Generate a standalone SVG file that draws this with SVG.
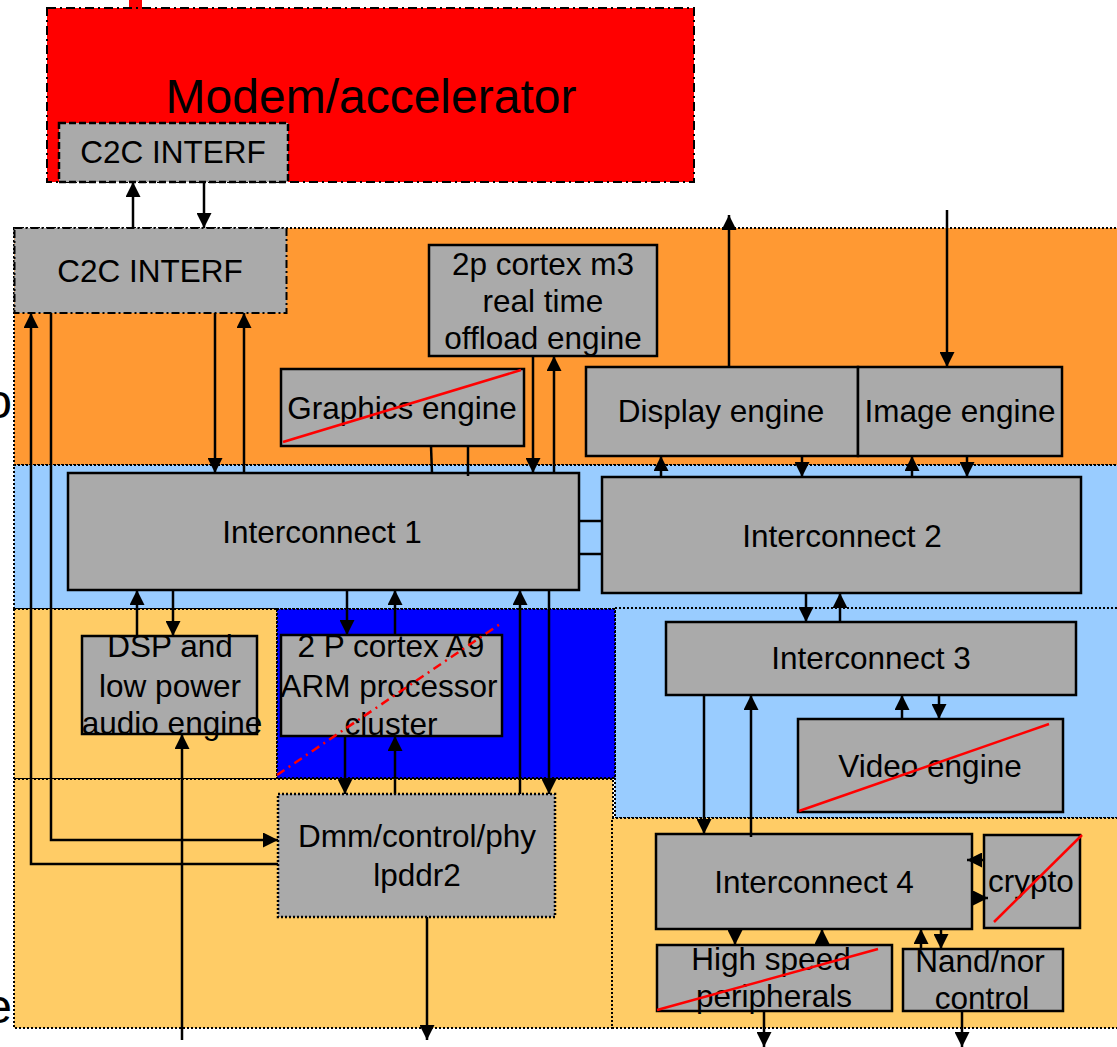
<svg xmlns="http://www.w3.org/2000/svg" width="1117" height="1047" viewBox="0 0 1117 1047">
<style>
  text { font-family: "Liberation Sans", Arial, sans-serif; fill: #000; text-anchor: middle; }
  .t { font-size: 31.5px; }
  .big { font-size: 48px; }
  .box { fill: #AAAAAA; stroke: #000; stroke-width: 2.5; }
  .dashbox { fill: #AAAAAA; stroke: #000; stroke-width: 2.5; stroke-dasharray: 7 3; }
  .dashdot { fill: #AAAAAA; stroke: #000; stroke-width: 2; stroke-dasharray: 8 3 2 3; }
  .dotbox { fill: #AAAAAA; stroke: #000; stroke-width: 2.5; stroke-dasharray: 2 2; }
  .reg { stroke: #000; stroke-width: 2; stroke-dasharray: 2 2; }
  .cross { stroke: #FF0000; stroke-width: 2.5; fill: none; }
  .c { stroke: #000; stroke-width: 2.5; fill: none; }
  .a { stroke: #000; stroke-width: 2.5; fill: none; marker-end: url(#ah); }
</style>
<defs>
  <marker id="ah" viewBox="0 0 15 15" refX="15" refY="7.5" markerWidth="15" markerHeight="15" markerUnits="userSpaceOnUse" orient="auto">
    <path d="M0,0 L15,7.5 L0,15 z" fill="#000"/>
  </marker>
</defs>
<rect width="1117" height="1047" fill="#FFFFFF"/>

<!-- regions -->
<g id="regions">
  <rect x="14" y="228" width="1110" height="237" fill="#FF9933" class="reg"/>
  <rect x="14" y="465" width="1110" height="144" fill="#99CCFF" class="reg"/>
  <rect x="615" y="608" width="510" height="210" fill="#99CCFF" class="reg"/>
  <rect x="14" y="609" width="263" height="170" fill="#FFCC66" class="reg"/>
  <rect x="277" y="609" width="338" height="169" fill="#0000FF" class="reg"/>
  <rect x="14" y="779" width="599" height="249" fill="#FFCC66" class="reg"/>
  <rect x="612" y="818" width="512" height="210" fill="#FFCC66" class="reg"/>
  <text x="12" y="418" style="font-size:48px;text-anchor:end">o</text>
  <text x="12" y="1023" style="font-size:48px;text-anchor:end">e</text>
</g>

<!-- modem -->
<g id="modem">
  <rect x="129" y="0" width="13" height="10" fill="#FF0000"/>
  <rect x="47" y="8" width="647" height="174" fill="#FF0000" stroke="#000" stroke-width="2" stroke-dasharray="9 4 2 4"/>
  <text class="big" x="371" y="113">Modem/accelerator</text>
</g>
<g id="c2c-modem">
  <rect x="59" y="123" width="229" height="59" class="dashbox"/>
  <text class="t" x="173" y="163">C2C INTERF</text>
</g>
<g id="c2c-soc">
  <rect x="14.5" y="228" width="272" height="85" class="dashdot"/>
  <text class="t" x="150" y="282">C2C INTERF</text>
</g>
<g id="m3">
  <rect x="429" y="245" width="228" height="111" class="box"/>
  <text class="t" x="543"><tspan x="543" y="275">2p cortex m3</tspan><tspan x="543" y="312">real time</tspan><tspan x="543" y="349">offload engine</tspan></text>
</g>
<g id="graphics">
  <rect x="281" y="369" width="243" height="77" class="box"/>
  <text class="t" x="402" y="419">Graphics engine</text>
  <line x1="283" y1="442" x2="521" y2="370" class="cross"/>
</g>
<g id="display">
  <rect x="586" y="367" width="272" height="89" class="box"/>
  <text class="t" x="721" y="422">Display engine</text>
</g>
<g id="image">
  <rect x="858" y="367" width="204" height="89" class="box"/>
  <text class="t" x="960" y="422">Image engine</text>
</g>
<g id="int1">
  <rect x="68" y="473" width="511" height="117" class="box"/>
  <text class="t" x="322" y="543">Interconnect 1</text>
</g>
<g id="int2">
  <rect x="602" y="477" width="479" height="116" class="box"/>
  <text class="t" x="842" y="547">Interconnect 2</text>
</g>
<g id="dsp">
  <rect x="82" y="636" width="175" height="98" class="box"/>
  <text class="t"><tspan x="170" y="657">DSP and</tspan><tspan x="170" y="697">low power</tspan><tspan x="172" y="734">audio engine</tspan></text>
</g>
<g id="arm">
  <rect x="281" y="635" width="221" height="101" class="box"/>
  <text class="t"><tspan x="391" y="657">2 P cortex A9</tspan><tspan x="389" y="697">ARM processor</tspan><tspan x="391" y="735">cluster</tspan></text>
  <line x1="277" y1="775" x2="503" y2="622" stroke="#FF0000" stroke-width="2.5" stroke-dasharray="9 5 2 5"/>
</g>
<g id="int3">
  <rect x="666" y="622" width="410" height="73" class="box"/>
  <text class="t" x="871" y="669">Interconnect 3</text>
</g>
<g id="video">
  <rect x="798" y="719" width="265" height="93" class="box"/>
  <text class="t" x="930" y="777">Video engine</text>
  <line x1="799" y1="811" x2="1049" y2="724" class="cross"/>
</g>
<g id="dmm">
  <rect x="278" y="794" width="277" height="123" class="dotbox"/>
  <text class="t"><tspan x="417" y="847">Dmm/control/phy</tspan><tspan x="417" y="886">lpddr2</tspan></text>
</g>
<g id="int4">
  <rect x="656" y="834" width="316" height="95" class="box"/>
  <text class="t" x="814" y="893">Interconnect 4</text>
</g>
<g id="crypto">
  <rect x="984" y="835" width="96" height="93" class="box"/>
  <text class="t" x="1031" y="892">crypto</text>
  <line x1="994" y1="922" x2="1082" y2="835" class="cross"/>
</g>
<g id="hsp">
  <rect x="657" y="945" width="235" height="66" class="box"/>
  <text class="t"><tspan x="771" y="970">High speed</tspan><tspan x="774" y="1007">peripherals</tspan></text>
  <line x1="657" y1="1010" x2="878" y2="949" class="cross"/>
</g>
<g id="nand">
  <rect x="903" y="949" width="160" height="62" class="box"/>
  <text class="t"><tspan x="980" y="972">Nand/nor</tspan><tspan x="982" y="1009">control</tspan></text>
</g>

<!-- connectors -->
<g id="connectors">
  <line x1="133" y1="228" x2="133" y2="182" class="a"/>
  <line x1="204" y1="182" x2="204" y2="228" class="a"/>
  <polyline points="278,864 31,864 31,313" class="a"/>
  <polyline points="51,313 51,840 278,840" class="a"/>
  <line x1="215" y1="313" x2="215" y2="473" class="a"/>
  <line x1="244" y1="473" x2="244" y2="313" class="a"/>
  <line x1="431" y1="446" x2="432" y2="473" class="c"/>
  <line x1="468" y1="446" x2="468" y2="476" class="c"/>
  <line x1="533" y1="356" x2="533" y2="473" class="a"/>
  <line x1="554" y1="473" x2="554" y2="356" class="a"/>
  <line x1="729" y1="367" x2="729" y2="215" class="a"/>
  <line x1="947" y1="210" x2="947" y2="367" class="a"/>
  <line x1="661" y1="477" x2="661" y2="456" class="a"/>
  <line x1="802" y1="456" x2="802" y2="477" class="a"/>
  <line x1="912" y1="477" x2="912" y2="456" class="a"/>
  <line x1="967" y1="456" x2="967" y2="477" class="a"/>
  <line x1="579" y1="521" x2="602" y2="521" class="c"/>
  <line x1="579" y1="554" x2="602" y2="554" class="c"/>
  <line x1="137" y1="636" x2="137" y2="590" class="a"/>
  <line x1="173" y1="590" x2="173" y2="636" class="a"/>
  <line x1="182" y1="1040" x2="182" y2="734" class="a"/>
  <line x1="347" y1="590" x2="347" y2="635" class="a"/>
  <line x1="395" y1="635" x2="395" y2="590" class="a"/>
  <line x1="345" y1="736" x2="345" y2="794" class="a"/>
  <line x1="395" y1="794" x2="395" y2="736" class="a"/>
  <line x1="520" y1="794" x2="520" y2="590" class="a"/>
  <line x1="549" y1="590" x2="549" y2="794" class="a"/>
  <line x1="427" y1="917" x2="427" y2="1040" class="a"/>
  <line x1="806" y1="593" x2="806" y2="622" class="a"/>
  <line x1="840" y1="622" x2="840" y2="593" class="a"/>
  <line x1="902" y1="719" x2="902" y2="695" class="a"/>
  <line x1="939" y1="695" x2="939" y2="719" class="a"/>
  <line x1="704" y1="695" x2="704" y2="834" class="a"/>
  <line x1="751" y1="837" x2="751" y2="695" class="a"/>
  <line x1="984" y1="860" x2="967" y2="860" class="a"/>
  <line x1="972" y1="898" x2="988" y2="898" class="a"/>
  <line x1="735" y1="929" x2="735" y2="945" class="a"/>
  <line x1="822" y1="945" x2="822" y2="929" class="a"/>
  <line x1="921" y1="949" x2="921" y2="929" class="a"/>
  <line x1="941" y1="929" x2="941" y2="949" class="a"/>
  <line x1="764" y1="1011" x2="764" y2="1047" class="a"/>
  <line x1="962" y1="1011" x2="962" y2="1047" class="a"/>
</g>
</svg>
